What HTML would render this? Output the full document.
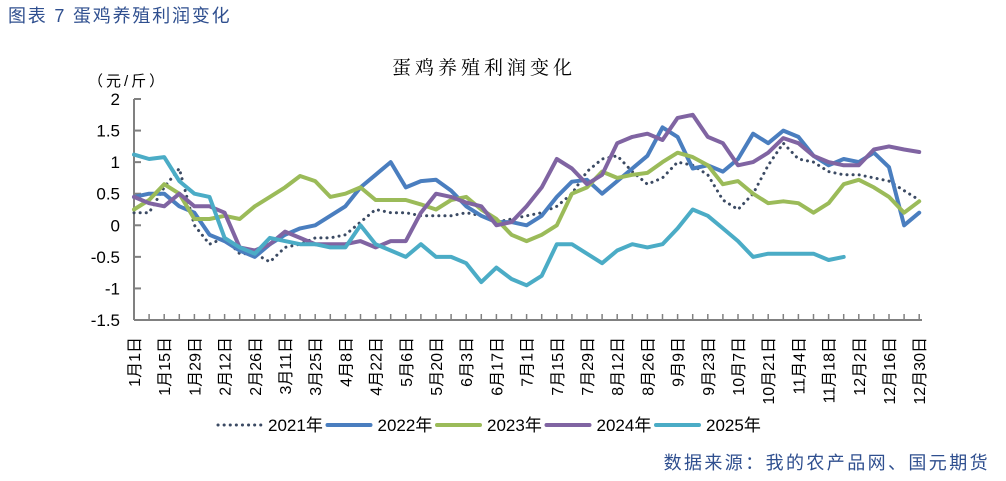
<!DOCTYPE html>
<html><head><meta charset="utf-8"><style>
body{margin:0;background:#fff;width:1006px;height:481px;overflow:hidden;}
svg{display:block;font-family:"Liberation Sans","Noto Sans CJK SC",sans-serif;}
</style></head><body>
<svg id="chart" width="1006" height="481">
<text x="8" y="22" font-size="18" letter-spacing="1.8" fill="#2f4f8f">图表 7 蛋鸡养殖利润变化</text>
<text x="484" y="74" font-size="19" letter-spacing="4" text-anchor="middle" fill="#000" font-family="'Noto Serif CJK SC',serif">蛋鸡养殖利润变化</text>
<text x="88" y="86" font-size="15" letter-spacing="3" fill="#000">（元/斤）</text>
<g id="axes"></g>
<g id="series"></g>
<g id="legend"></g>
<text x="990" y="469" font-size="18" letter-spacing="2.4" text-anchor="end" fill="#2f4f8f">数据来源：我的农产品网、国元期货</text>
</svg>
<script>
const xLabels=["1月1日","1月15日","1月29日","2月12日","2月26日","3月11日","3月25日","4月8日","4月22日","5月6日","5月20日","6月3日","6月17日","7月1日","7月15日","7月29日","8月12日","8月26日","9月9日","9月23日","10月7日","10月21日","11月4日","11月18日","12月2日","12月16日","12月30日"];
const yTicks=[2,1.5,1,0.5,0,-0.5,-1,-1.5];
const yTickLabels=["2","1.5","1","0.5","0","-0.5","-1","-1.5"];
const years=["2021年","2022年","2023年","2024年","2025年"];
const s2021=[0.2,0.2,0.6,0.9,0.0,-0.3,-0.2,-0.45,-0.45,-0.58,-0.35,-0.3,-0.2,-0.2,-0.15,0.05,0.25,0.2,0.2,0.15,0.15,0.15,0.2,0.15,0.05,0.1,0.15,0.2,0.3,0.5,0.85,1.05,1.1,0.85,0.65,0.75,1.0,0.95,0.8,0.4,0.25,0.5,0.95,1.3,1.05,1.0,0.85,0.8,0.8,0.75,0.7,0.55,0.4];
const s2022=[0.45,0.5,0.5,0.3,0.2,-0.15,-0.25,-0.4,-0.5,-0.3,-0.15,-0.05,0.0,0.15,0.3,0.6,0.8,1.0,0.6,0.7,0.72,0.55,0.3,0.15,0.05,0.05,0.0,0.15,0.45,0.69,0.72,0.5,0.7,0.9,1.1,1.55,1.4,0.9,0.95,0.85,1.05,1.45,1.3,1.5,1.4,1.1,0.95,1.05,1.0,1.15,0.92,0.0,0.2];
const s2023=[0.25,0.4,0.65,0.5,0.1,0.1,0.15,0.1,0.3,0.45,0.6,0.78,0.7,0.45,0.5,0.6,0.4,0.4,0.4,0.33,0.25,0.4,0.45,0.25,0.1,-0.15,-0.25,-0.15,0.0,0.5,0.6,0.85,0.75,0.8,0.83,1.0,1.15,1.08,0.95,0.65,0.7,0.5,0.35,0.38,0.35,0.2,0.35,0.65,0.72,0.6,0.45,0.2,0.38];
const s2024=[0.45,0.35,0.3,0.5,0.3,0.3,0.2,-0.35,-0.4,-0.3,-0.1,-0.2,-0.3,-0.3,-0.3,-0.25,-0.35,-0.25,-0.25,0.2,0.5,0.45,0.36,0.3,0.0,0.05,0.3,0.6,1.05,0.9,0.65,0.8,1.3,1.4,1.45,1.35,1.7,1.75,1.4,1.3,0.95,1.0,1.15,1.38,1.3,1.1,1.0,0.95,0.95,1.2,1.25,1.2,1.16];
const s2025=[1.12,1.05,1.08,0.7,0.5,0.45,-0.2,-0.35,-0.45,-0.2,-0.25,-0.3,-0.3,-0.35,-0.35,0.0,-0.3,-0.4,-0.5,-0.3,-0.5,-0.5,-0.6,-0.9,-0.67,-0.85,-0.95,-0.8,-0.3,-0.3,-0.45,-0.6,-0.4,-0.3,-0.35,-0.3,-0.05,0.25,0.15,-0.05,-0.25,-0.5,-0.45,-0.45,-0.45,-0.45,-0.55,-0.5];
const allSeries=[s2021,s2022,s2023,s2024,s2025];
const colors=["#3b4a63","#4a7ebf","#9bbb59","#8064a2","#4bacc6"];
const NS="http://www.w3.org/2000/svg";
const X0=134,STEP=15.1,YTOP=99,YBOT=320;
function xPos(i){return X0+i*STEP;}
function yPos(v){return YTOP+(2-v)*(YBOT-YTOP)/3.5;}
function mk(tag,attrs,parent){const e=document.createElementNS(NS,tag);for(const k in attrs)e.setAttribute(k,attrs[k]);parent.appendChild(e);return e;}
const axes=document.getElementById('axes');
const yAxis=mk('line',{x1:X0,y1:YTOP,x2:X0,y2:YBOT,stroke:'#808080','stroke-width':2},axes);


const xAxis=mk('line',{x1:X0,y1:YBOT,x2:922,y2:YBOT,stroke:'#808080','stroke-width':2},axes);


yTicks.forEach((v,i)=>{
  const t=mk('line',{x1:X0,y1:yPos(v),x2:X0+7,y2:yPos(v),stroke:'#808080','stroke-width':2},axes);
  
  
  const l=mk('text',{x:120,y:yPos(v)+6,'font-size':17,'text-anchor':'end',fill:'#000'},axes);
  l.textContent=yTickLabels[i];
  
  
});
for(let k=1;k<=52;k++){
  const t=mk('line',{x1:xPos(k),y1:YBOT,x2:xPos(k),y2:YBOT-6,stroke:'#808080','stroke-width':1.5},axes);
  
  
}
xLabels.forEach((s,k)=>{
  const x=xPos(k*2)+6;
  const l=mk('text',{x:x,y:337,'font-size':16,'text-anchor':'end',fill:'#000',transform:`rotate(-90 ${x} 337)`},axes);
  l.textContent=s;
  
  
});
const sg=document.getElementById('series');
allSeries.forEach((arr,si)=>{
  const d=arr.map((v,i)=>(i?'L':'M')+xPos(i).toFixed(1)+' '+yPos(v).toFixed(1)).join(' ');
  const attrs={d:d,fill:'none',stroke:colors[si],'stroke-width':si===0?3:4,'stroke-linejoin':'round','stroke-linecap':'round'};
  if(si===0){attrs['stroke-dasharray']='0.1 6';}
  const p=mk('path',attrs,sg);
  
  
});
const lg=document.getElementById('legend');
years.forEach((y,si)=>{
  const x=218+si*109.5;
  const la={x1:x,y1:425,x2:x+43,y2:425,stroke:colors[si],'stroke-width':si===0?3:4,'stroke-linecap':'round'};
  if(si===0){la['stroke-dasharray']='0.1 6';}
  const ln=mk('line',la,lg);
  
  
  const t=mk('text',{x:x+50,y:431,'font-size':17,fill:'#000'},lg);
  t.textContent=y;
  
  
});
</script>
</body></html>
